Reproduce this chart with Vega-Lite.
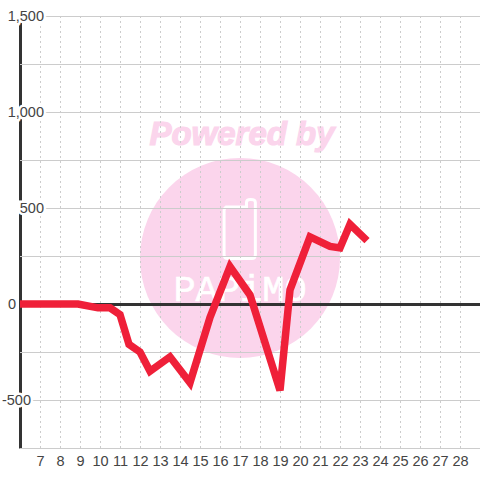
{"$schema":"https://vega.github.io/schema/vega-lite/v6.json","width":460,"height":432,"autosize":{"type":"none"},"padding":{"left":20,"top":16,"right":0,"bottom":32},"background":"white","config":{"view":{"stroke":null},"font":"Liberation Sans"},
"datasets":{"series":[{"day":6,"v":0},{"day":8.9,"v":0},{"day":9.9,"v":-20},{"day":10.5,"v":-20},{"day":11,"v":-55},{"day":11.45,"v":-210},{"day":12,"v":-250},{"day":12.5,"v":-350},{"day":13.5,"v":-275},{"day":14.5,"v":-410},{"day":15.5,"v":-70},{"day":16.5,"v":195},{"day":17.5,"v":47},{"day":19,"v":-450},{"day":19.5,"v":73},{"day":20.5,"v":350},{"day":21.5,"v":300},{"day":22,"v":292},{"day":22.5,"v":415},{"day":23.35,"v":330}],
"ygrid":[{"v":-750},{"v":-500},{"v":-250},{"v":0},{"v":250},{"v":500},{"v":750},{"v":1000},{"v":1250},{"v":1500}],
"xgrid":[{"d":7},{"d":8},{"d":9},{"d":10},{"d":11},{"d":12},{"d":13},{"d":14},{"d":15},{"d":16},{"d":17},{"d":18},{"d":19},{"d":20},{"d":21},{"d":22},{"d":23},{"d":24},{"d":25},{"d":26},{"d":27},{"d":28}],
"ylabels":[{"v":-500,"t":"-500"},{"v":0,"t":"0"},{"v":500,"t":"500"},{"v":1000,"t":"1,000"},{"v":1500,"t":"1,500"}]},
"layer":[
{"data":{"values":[{"a":1}]},"mark":{"type":"point","filled":true,"shape":"circle","size":40000,"color":"#fbd5ec","opacity":1},"encoding":{"x":{"datum":17,"type":"quantitative","scale":{"domain":[6,29],"nice":false,"zero":false},"axis":{"values":[7,8,9,10,11,12,13,14,15,16,17,18,19,20,21,22,23,24,25,26,27,28],"tickCount":30,"title":null,"grid":false,"domain":false,"ticks":false,"labelAngle":0,"labelPadding":6,"labelFlush":false,"labelOverlap":false,"format":"d","labelFont":"Liberation Sans","labelFontSize":14.5,"labelColor":"#444444"}},"y":{"datum":240,"type":"quantitative","scale":{"domain":[-750,1500],"nice":false,"zero":false},"axis":{"title":null,"grid":false,"labels":false,"ticks":false,"domain":true,"domainColor":"#333333","domainWidth":3}}}},
{"data":{"values":[{"a":1}]},"mark":{"type":"point","filled":false,"shape":"M-0.5,-0.75 L0.22,-0.75 L0.22,-0.9 Q0.22,-1 0.36,-1 Q0.52,-1 0.52,-0.9 L0.52,0.88 Q0.52,1 0.4,1 L-0.4,1 Q-0.54,1 -0.54,0.88 L-0.54,-0.62 Q-0.54,-0.75 -0.4,-0.75 Z","size":3481,"stroke":"white","strokeWidth":3,"opacity":1},"encoding":{"x":{"datum":17,"type":"quantitative"},"y":{"datum":390,"type":"quantitative"}}},
{"data":{"values":[{"t":"PAPiMO"}]},"mark":{"type":"text","font":"Liberation Mono","fontSize":37,"color":"white","stroke":"white","strokeWidth":0.6,"align":"center","baseline":"middle"},"encoding":{"x":{"datum":17,"type":"quantitative"},"y":{"datum":72,"type":"quantitative"},"text":{"field":"t"}}},
{"data":{"values":[{"t":"Powered by"}]},"mark":{"type":"text","font":"Liberation Sans","fontSize":33,"fontWeight":"bold","fontStyle":"italic","color":"#fbd5ec","stroke":"#fbd5ec","strokeWidth":1.2,"align":"center","baseline":"middle"},"encoding":{"x":{"datum":17.1,"type":"quantitative"},"y":{"datum":880,"type":"quantitative"},"text":{"field":"t"}}},
{"data":{"name":"ygrid"},"mark":{"type":"rule","color":"#cccccc","strokeWidth":1,"yOffset":0.5},"encoding":{"y":{"field":"v","type":"quantitative"}}},
{"data":{"name":"xgrid"},"mark":{"type":"rule","color":"#cccccc","strokeWidth":1,"strokeDash":[2,3],"xOffset":0.5},"encoding":{"x":{"field":"d","type":"quantitative"}}},
{"data":{"values":[{"v":0}]},"mark":{"type":"rule","color":"#333333","strokeWidth":3,"yOffset":0.5},"encoding":{"y":{"field":"v","type":"quantitative"}}},
{"data":{"name":"series"},"mark":{"type":"line","color":"#ef2039","strokeWidth":7.5,"strokeJoin":"miter"},"encoding":{"x":{"field":"day","type":"quantitative"},"y":{"field":"v","type":"quantitative"},"order":{"field":"day","type":"quantitative"}}},
{"data":{"name":"ylabels"},"mark":{"type":"text","font":"Liberation Sans","fontSize":14.5,"align":"right","baseline":"middle","color":"white","stroke":"white","strokeWidth":5,"dy":1,"dx":{"expr":"datum.v>0?24:(datum.v<0?11:-4)"}},"encoding":{"x":{"datum":6,"type":"quantitative"},"y":{"field":"v","type":"quantitative"},"text":{"field":"t"}}},
{"data":{"name":"ylabels"},"mark":{"type":"text","font":"Liberation Sans","fontSize":14.5,"align":"right","baseline":"middle","color":"#444444","dy":1,"dx":{"expr":"datum.v>0?24:(datum.v<0?11:-4)"}},"encoding":{"x":{"datum":6,"type":"quantitative"},"y":{"field":"v","type":"quantitative"},"text":{"field":"t"}}}
]}
